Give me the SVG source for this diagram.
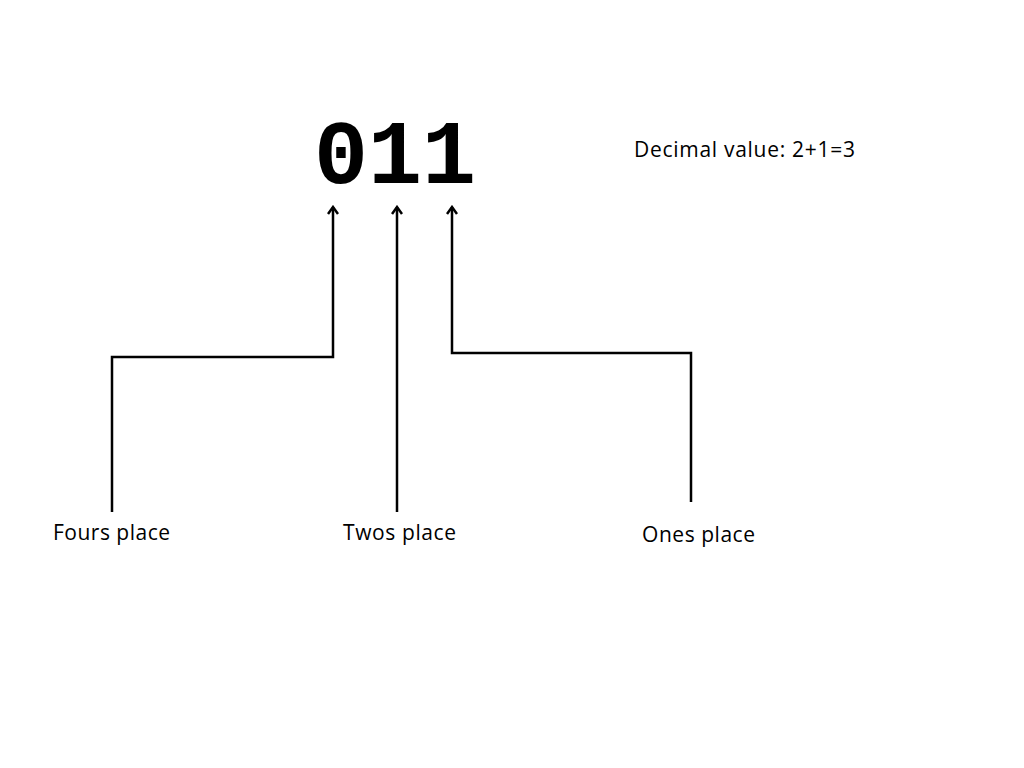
<svg xmlns="http://www.w3.org/2000/svg" width="1024" height="768" viewBox="0 0 1024 768">
<style>
.l{font-family:"Open Sans","Liberation Sans",sans-serif;font-size:21px;fill:#000}
.c{fill:none;stroke:#000;stroke-width:2.5}
</style>
<defs><marker id="a" markerWidth="12" markerHeight="12" refX="10" refY="6" orient="auto" markerUnits="userSpaceOnUse" viewBox="0 0 12 12"><path d="M3,1 L10,6 L3,11" fill="none" stroke="#000" stroke-width="2.5"/></marker></defs>
<rect width="1024" height="768" fill="#fff"/>
<g id="number"><text x="314" y="183" font-family="'Liberation Mono',monospace" font-weight="bold" font-size="90">011</text></g>
<g id="decimal"><text class="l" x="634" y="157" textLength="221">Decimal value: 2+1=3</text></g>
<g id="fours"><text class="l" x="53" y="540" textLength="117">Fours place</text></g>
<g id="twos"><text class="l" x="343" y="540" textLength="113">Twos place</text></g>
<g id="ones"><text class="l" x="642" y="542" textLength="113">Ones place</text></g>
<g id="connectors">
<path class="c" d="M112,512 V357 H333 V207" marker-end="url(#a)"/>
<path class="c" d="M397,512 V207" marker-end="url(#a)"/>
<path class="c" d="M691,502 V353 H452 V207" marker-end="url(#a)"/>
</g>
</svg>
